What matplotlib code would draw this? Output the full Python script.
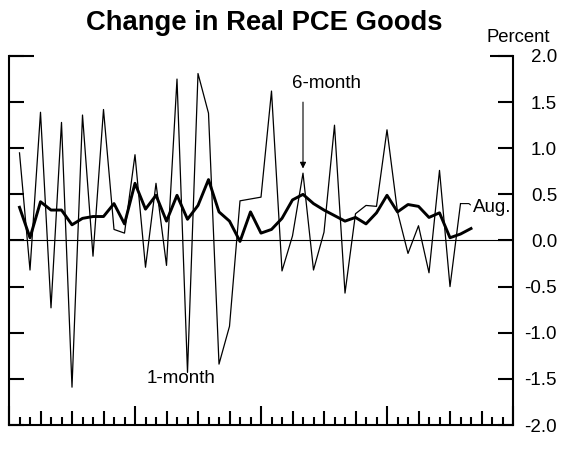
import matplotlib
matplotlib.use('Agg')
import matplotlib.pyplot as plt
import numpy as np

plt.rcParams['font.family'] = ['Liberation Sans', 'DejaVu Sans']

# Real PCE goods, percent change (monthly and 6-month), starting Jan 2004
one_month = [0.95, -0.32, 1.39, -0.73, 1.28, -1.59, 1.36, -0.17, 1.42, 0.12,
             0.08, 0.93, -0.29, 0.62, -0.27, 1.75, -1.43, 1.81, 1.38, -1.34,
             -0.93, 0.43, 0.45, 0.47, 1.62, -0.33, 0.05, 0.73, -0.32, 0.09,
             1.25, -0.57, 0.29, 0.38, 0.37, 1.20, 0.31, -0.14, 0.16, -0.35,
             0.76, -0.50, 0.40]
six_month = [0.36, 0.03, 0.42, 0.33, 0.33, 0.17, 0.24, 0.26, 0.26, 0.40,
             0.18, 0.62, 0.34, 0.49, 0.21, 0.49, 0.23, 0.38, 0.66, 0.31,
             0.21, -0.01, 0.31, 0.08, 0.12, 0.24, 0.44, 0.50, 0.40, 0.33,
             0.27, 0.21, 0.25, 0.18, 0.30, 0.49, 0.31, 0.39, 0.37, 0.25,
             0.30, 0.03, 0.07, 0.13]
years = ['2004', '2005', '2006', '2007']
yticks = [-2.0, -1.5, -1.0, -0.5, 0.0, 0.5, 1.0, 1.5, 2.0]
ytick_labels = ['-2.0', '-1.5', '-1.0', '-0.5', '0.0', '0.5', '1.0', '1.5', '2.0']

x1 = 2004 + (np.arange(len(one_month)) + 1) / 12
x6 = 2004 + (np.arange(len(six_month)) + 1) / 12

fig = plt.figure(figsize=(5.66, 4.49), dpi=100)
ax = fig.add_axes([9 / 566, 1 - 425 / 449, 504 / 566, 369 / 449])

ax.axhline(0, color='black', lw=0.8)
ax.plot(x1, one_month, color='black', lw=0.9)
ax.plot(x6, six_month, color='black', lw=2.1)

ax.set_xlim(2004, 2008)
ax.set_ylim(-2, 2)

for s in ['left', 'right', 'bottom']:
    ax.spines[s].set_linewidth(1.5)
ax.spines['top'].set_visible(False)

# y axis: ticks both sides, labels right
ax.set_yticks(yticks)
ax.set_yticklabels(ytick_labels)
ax.yaxis.set_ticks_position('both')
ax.tick_params(axis='y', which='major', direction='in', length=10.8, width=1.5,
               labelleft=False, labelright=True, labelsize=13.5, pad=31.7)
for t in ax.yaxis.get_major_ticks():
    t.label2.set_horizontalalignment('right')

# longer ticks at top
ax.plot([0, 25 / 504], [1, 1], transform=ax.transAxes, color='black', lw=1.5,
        clip_on=False, solid_capstyle='butt')
ax.plot([1 - 23 / 504, 1], [1, 1], transform=ax.transAxes, color='black', lw=1.5,
        clip_on=False, solid_capstyle='butt')

# x axis: monthly ticks, taller at quarters and years
months = np.arange(49)
ax.xaxis.set_ticks_position('bottom')
ax.set_xticks(2004 + months / 12)
ax.set_xticklabels([])
ax.tick_params(axis='x', which='major', direction='in', length=5.8, width=1.5)
for m, t in zip(months, ax.xaxis.get_major_ticks()):
    if m % 12 == 0:
        t.tick1line.set_markersize(13.7)
    elif m % 3 == 0:
        t.tick1line.set_markersize(10)
ax.set_xticks([2004.5, 2005.5, 2006.5, 2007.5], minor=True)
ax.set_xticklabels(years, minor=True)
ax.tick_params(axis='x', which='minor', length=0, labelsize=13.5, pad=4.5)

# annotations
ax.text(2006.246, 1.70, '6-month', ha='left', va='center', fontsize=13.5)
ax.annotate('', xy=(x1[27], 0.78), xytext=(x1[27], 1.50),
            arrowprops=dict(arrowstyle='-|>', color='black', lw=0.8,
                            mutation_scale=9, shrinkA=0, shrinkB=0))
ax.text(2005.095, -1.50, '1-month', ha='left', va='center', fontsize=13.5)
ax.annotate('Aug.', xy=(x1[-1], one_month[-1]), xytext=(2007.685, 0.36),
            ha='left', va='center', fontsize=13.5,
            arrowprops=dict(arrowstyle='-', color='black', lw=0.8,
                            shrinkA=0, shrinkB=0, relpos=(0, 0.5),
                            connectionstyle='angle,angleA=140,angleB=0,rad=0'))

fig.text(264 / 566, 1 - 23 / 449, 'Change in Real PCE Goods', ha='center',
         va='center', fontsize=19.7, fontweight='bold')
fig.text(518 / 566, 1 - 37 / 449, 'Percent', ha='center', va='center',
         fontsize=13.3)

fig.savefig('out.png', dpi=100)
